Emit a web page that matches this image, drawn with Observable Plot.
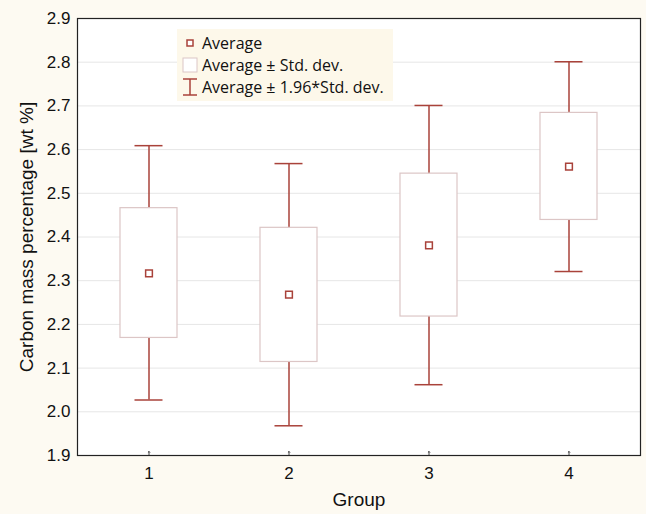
<!DOCTYPE html>
<html>
<head>
<meta charset="utf-8">
<script src="https://cdn.jsdelivr.net/npm/d3@7"></script>
<script src="https://cdn.jsdelivr.net/npm/@observablehq/plot@0.6"></script>
<style>
  html, body { margin: 0; padding: 0; background: #fdfaf2; }
  #wrap { position: relative; width: 646px; height: 514px; }
  #legend { position: absolute; left: 177px; top: 29px; width: 216px; height: 72px;
    background: #fdf8ea; font-family: "Open Sans", sans-serif; font-size: 16px; color: #111; }
  .row { position: absolute; left: 0; height: 22px; display: flex; align-items: center; }
  .row span { position: absolute; left: 25px; white-space: nowrap; }
  .row svg { position: absolute; left: 5px; }
</style>
</head>
<body>
<div id="wrap">
  <div id="chart"></div>
  <div id="legend"></div>
</div>
<script>
// Data
const groups    = [1, 2, 3, 4];
const means     = [2.317, 2.268, 2.381, 2.561];
const boxLow    = [2.169, 2.114, 2.218, 2.439];
const boxHigh   = [2.466, 2.421, 2.545, 2.684];
const whiskLow  = [2.027, 1.968, 2.062, 2.321];
const whiskHigh = [2.609, 2.568, 2.701, 2.801];
const yTicks    = [1.9, 2.0, 2.1, 2.2, 2.3, 2.4, 2.5, 2.6, 2.7, 2.8, 2.9];
const legendLabels = ["Average", "Average ± Std. dev.", "Average ± 1.96*Std. dev."];

const data = groups.map((g, i) => ({
  g, mean: means[i], lo: boxLow[i], hi: boxHigh[i], wlo: whiskLow[i], whi: whiskHigh[i]
}));

const dark = "#a9423a";
const boxStroke = "#dcc6c6";
const yMin = yTicks[0], yMax = yTicks[yTicks.length - 1];

const chart = Plot.plot({
  width: 646,
  height: 514,
  marginLeft: 77,
  marginRight: 6,
  marginTop: 18,
  marginBottom: 59,
  style: { background: "transparent", fontFamily: "'Liberation Sans', Arial, sans-serif", fontSize: "17px", color: "#111" },
  x: { type: "band", domain: groups, paddingInner: 0.595, paddingOuter: 0.2975 },
  y: { domain: [yMin, yMax] },
  marks: [
    Plot.frame({ fill: "white", stroke: "none" }),
    Plot.ruleY(yTicks.slice(1, -1), { stroke: "#e6e6e6", strokeWidth: 1 }),
    Plot.axisY({ ticks: yTicks, tickFormat: d3.format(".1f"), tickSize: 0, tickPadding: 7, label: null, fontSize: 17 }),
    Plot.axisX({ tickSize: 0, tickPadding: 11, label: null, fontSize: 17 }),
    Plot.vector(groups, { x: d => d, y: () => yMin, length: 4, rotate: 0, anchor: "start", stroke: "#444", strokeWidth: 1 }),
    Plot.ruleX(data, { x: "g", y1: "wlo", y2: "whi", stroke: dark, strokeWidth: 1.5 }),
    Plot.tickY(data, { x: "g", y: "whi", stroke: dark, strokeWidth: 1.5, insetLeft: 14.5, insetRight: 14.5 }),
    Plot.tickY(data, { x: "g", y: "wlo", stroke: dark, strokeWidth: 1.5, insetLeft: 14.5, insetRight: 14.5 }),
    Plot.barY(data, { x: "g", y1: "lo", y2: "hi", fill: "white", stroke: boxStroke, strokeWidth: 1.2 }),
    Plot.dot(data, { x: "g", y: "mean", symbol: "square", r: 3.8, stroke: dark, fill: "white", strokeWidth: 1.5 }),
    Plot.frame({ stroke: "#222", strokeWidth: 1.2 }),
    Plot.text(["Carbon mass percentage [wt %]"], { frameAnchor: "left", textAnchor: "middle", dx: -51, rotate: -90, fontSize: 19, fill: "#111" }),
    Plot.text(["Group"], { frameAnchor: "bottom", dy: 50, fontSize: 19, fill: "#111" })
  ]
});
document.getElementById("chart").appendChild(chart);

// Legend overlay
const legend = document.getElementById("legend");
const swatches = [
  `<svg width="16" height="16"><rect x="5" y="5" width="6" height="6" fill="white" stroke="${dark}" stroke-width="1.5"/></svg>`,
  `<svg width="16" height="16"><rect x="1" y="1" width="14" height="14" fill="white" stroke="${boxStroke}" stroke-width="1"/></svg>`,
  `<svg width="16" height="18"><line x1="1" x2="15" y1="1" y2="1" stroke="${dark}" stroke-width="1.5"/><line x1="8" x2="8" y1="1" y2="17" stroke="${dark}" stroke-width="1.5"/><line x1="1" x2="15" y1="17" y2="17" stroke="${dark}" stroke-width="1.5"/></svg>`
];
legendLabels.forEach((lab, i) => {
  const row = document.createElement("div");
  row.className = "row";
  row.style.top = (3 + i * 22) + "px";
  row.innerHTML = swatches[i] + `<span>${lab}</span>`;
  legend.appendChild(row);
});
</script>
</body>
</html>
